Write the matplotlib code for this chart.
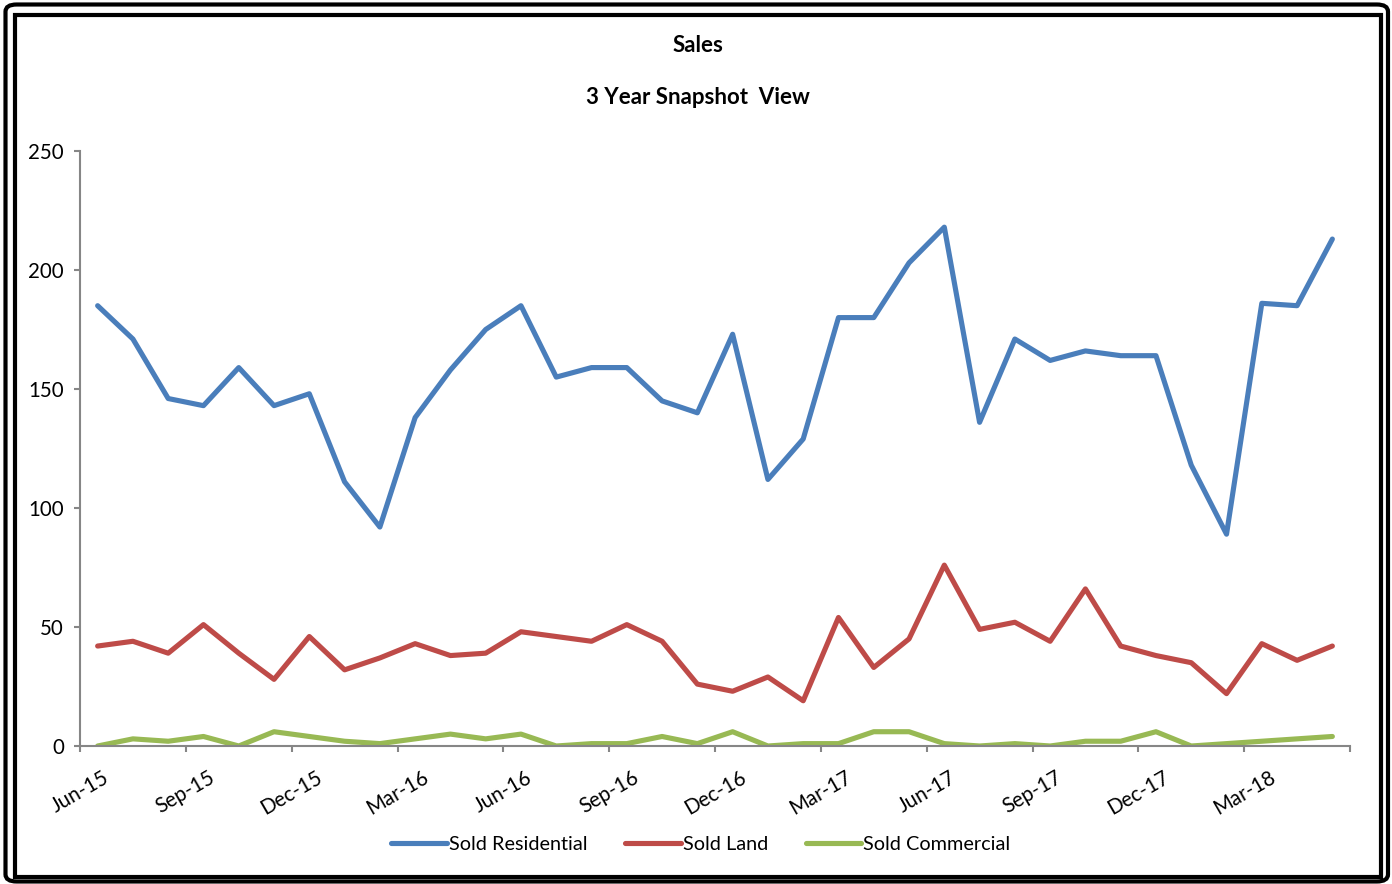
import numpy as np
import matplotlib
matplotlib.use("Agg")
import matplotlib.pyplot as plt
import matplotlib.transforms as mtransforms
from matplotlib.patches import FancyBboxPatch, Rectangle

plt.rcParams['font.family'] = ['Lato', 'DejaVu Sans']

# monthly sales, Jun-15 .. May-18
months = ['Jun-15', 'Jul-15', 'Aug-15', 'Sep-15', 'Oct-15', 'Nov-15', 'Dec-15', 'Jan-16', 'Feb-16',
          'Mar-16', 'Apr-16', 'May-16', 'Jun-16', 'Jul-16', 'Aug-16', 'Sep-16', 'Oct-16', 'Nov-16',
          'Dec-16', 'Jan-17', 'Feb-17', 'Mar-17', 'Apr-17', 'May-17', 'Jun-17', 'Jul-17', 'Aug-17',
          'Sep-17', 'Oct-17', 'Nov-17', 'Dec-17', 'Jan-18', 'Feb-18', 'Mar-18', 'Apr-18', 'May-18']
residential = [185, 171, 146, 143, 159, 143, 148, 111, 92, 138, 158, 175, 185, 155, 159, 159, 145, 140,
               173, 112, 129, 180, 180, 203, 218, 136, 171, 162, 166, 164, 164, 118, 89, 186, 185, 213]
land = [42, 44, 39, 51, 39, 28, 46, 32, 37, 43, 38, 39, 48, 46, 44, 51, 44, 26,
        23, 29, 19, 54, 33, 45, 76, 49, 52, 44, 66, 42, 38, 35, 22, 43, 36, 42]
commercial = [0, 3, 2, 4, 0, 6, 4, 2, 1, 3, 5, 3, 5, 0, 1, 1, 4, 1,
              6, 0, 1, 1, 6, 6, 1, 0, 1, 0, 2, 2, 6, 0, 1, 2, 3, 4]

fig = plt.figure(figsize=(13.92, 8.84), dpi=100)
ax = fig.add_axes([80 / 1392, 1 - 746 / 884, 1270 / 1392, 595 / 884])

x = np.arange(len(months))
style = dict(lw=3.7, solid_capstyle='round', solid_joinstyle='round')
ax.plot(x, residential, color='#4A7EBB', label='Sold Residential', **style)
ax.plot(x, land, color='#BE4B48', label='Sold Land', **style)
ax.plot(x, commercial, color='#98B954', label='Sold Commercial', **style)

ax.set_xlim(-0.5, len(months) - 0.5)
ax.set_ylim(0, 250)
ax.set_yticks(range(0, 251, 50))

# quarterly ticks sit between the monthly categories
tick_pos = np.arange(-0.5, len(months), 3)
ax.set_xticks(tick_pos)
ax.set_xticklabels([months[int(p + 0.5)] if p + 0.5 < len(months) else '' for p in tick_pos],
                   rotation=30, ha='center', va='top')
shift = mtransforms.ScaledTranslation(-9 / 100, 0, fig.dpi_scale_trans)
for lab in ax.get_xticklabels():
    lab.set_transform(lab.get_transform() + shift)

for side in ['top', 'right']:
    ax.spines[side].set_visible(False)
for side in ['left', 'bottom']:
    ax.spines[side].set_color('#868686')
    ax.spines[side].set_linewidth(1.5)
ax.tick_params(axis='both', direction='out', length=4.5, width=1.5, color='#868686', labelsize=14.8)
ax.tick_params(axis='y', pad=7)
ax.tick_params(axis='x', pad=11)

fig.text(698 / 1392, 1 - 46 / 884, 'Sales', ha='center', va='center', fontsize=16, fontweight='bold')
fig.text(698 / 1392, 1 - 98 / 884, '3 Year Snapshot  View', ha='center', va='center', fontsize=16, fontweight='bold')

leg = fig.legend(loc='center', bbox_to_anchor=(701 / 1392, 1 - 844 / 884), ncol=3, frameon=False,
                 fontsize=14.3, handlelength=2.8, handletextpad=0.1, columnspacing=1.9)

# double frame around the chart
fig.patches.append(FancyBboxPatch((5.5 / 1392, 2.5 / 884), 1382.5 / 1392, 877 / 884,
                                  boxstyle='round,pad=0,rounding_size=0.008', transform=fig.transFigure,
                                  fill=False, ec='black', lw=3.0))
fig.patches.append(Rectangle((15 / 1392, 7 / 884), 1365.5 / 1392, 862 / 884, transform=fig.transFigure,
                             fill=False, ec='black', lw=3.0))

fig.savefig('out.png', dpi=100)
